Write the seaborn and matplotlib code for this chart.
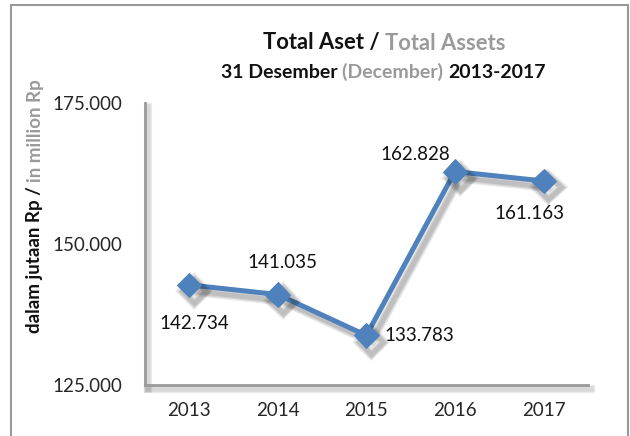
import numpy as np
import pandas as pd
import matplotlib
matplotlib.use("Agg")
import matplotlib.pyplot as plt
import matplotlib.patheffects as pe
from matplotlib.patches import Rectangle
import seaborn as sns

years = ["2013", "2014", "2015", "2016", "2017"]
assets = [142734, 141035, 133783, 162828, 161163]
labels = ["142.734", "141.035", "133.783", "162.828", "161.163"]
yticks = [125000, 150000, 175000]
ytick_labels = ["125.000", "150.000", "175.000"]

sns.set_style("white")
plt.rcParams["font.family"] = ["Lato", "DejaVu Sans"]

blue = "#4F81BD"
gray = "#9a9a9a"

df = pd.DataFrame({"year": years, "assets": assets})

fig = plt.figure(figsize=(6.3, 4.36), dpi=100)
ax = fig.add_axes([0.230, 0.117, 0.703, 0.647])

# outer frame
fig.patches.append(Rectangle((11 / 630, -0.05), 617 / 630, 1.05 - 5 / 436,
                             transform=fig.transFigure, fill=False,
                             edgecolor="#999999", linewidth=1.5))


def soft_shadow(off, widths, alpha):
    fx = [pe.SimpleLineShadow(offset=off, shadow_color="k", alpha=alpha, linewidth=w) for w in widths]
    return fx + [pe.Normal()]


sns.lineplot(data=df, x="year", y="assets", ax=ax, color=blue, linewidth=3.6,
             marker="D", markersize=12.5, markeredgecolor=blue, sort=False)
for ln in ax.lines:
    ln.set_path_effects(soft_shadow((3.5, -4.5), [7, 5, 3.5], 0.09))

ax.set_xlim(-0.5, 4.5)
ax.set_ylim(125000, 175000)
ax.set_yticks(yticks)
ax.set_yticklabels(ytick_labels)
ax.tick_params(axis="both", labelsize=13.5, length=0)
ax.tick_params(axis="y", pad=16)
ax.tick_params(axis="x", pad=12)
ax.set_xlabel("")
ax.set_ylabel("")

for s in ["top", "right"]:
    ax.spines[s].set_visible(False)
for s in ["left", "bottom"]:
    ax.spines[s].set_color("#9a9a9a")
    ax.spines[s].set_linewidth(2)
    ax.spines[s].set_path_effects(soft_shadow((2, -3), [6, 4], 0.08))

# data labels (offsets in pixels from each point)
offsets = [(5, -39), (5, 32), (53, 0), (-40, 17), (-14, -33)]
for i, (v, t) in enumerate(zip(assets, labels)):
    ax.annotate(t, (i, v), xytext=offsets[i], textcoords="offset pixels",
                ha="center", va="center", fontsize=13.5, color="#111111")


def multi_text(y, pieces, size, cx):
    fig.canvas.draw()
    r = fig.canvas.get_renderer()
    objs = []
    for txt, col in pieces:
        objs.append(fig.text(0, y, txt, color=col, fontsize=size, fontweight="bold",
                             ha="left", va="center"))
    widths = [o.get_window_extent(r).width for o in objs]
    x = cx * fig.bbox.width - sum(widths) / 2
    for o, w in zip(objs, widths):
        o.set_x(x / fig.bbox.width)
        x += w


multi_text(1 - 43 / 436, [("Total Aset / ", "#111111"), ("Total Assets", gray)], 15.8, 384 / 630)
multi_text(1 - 72 / 436, [("31 Desember ", "#111111"), ("(December) ", gray), ("2013-2017", "#111111")], 14, 383 / 630)


def multi_vtext(x, pieces, size, cy):
    fig.canvas.draw()
    r = fig.canvas.get_renderer()
    objs = []
    for txt, col in pieces:
        objs.append(fig.text(x, 0, txt, color=col, fontsize=size, fontweight="bold",
                             ha="center", va="bottom", rotation=90))
    heights = [o.get_window_extent(r).height for o in objs]
    y = cy * fig.bbox.height - sum(heights) / 2
    for o, h in zip(objs, heights):
        o.set_y(y / fig.bbox.height)
        y += h


multi_vtext(35 / 630, [("dalam jutaan Rp / ", "#111111"), ("in million Rp", gray)], 13.5, 1 - 206 / 436)

fig.savefig("out.png", dpi=100)
